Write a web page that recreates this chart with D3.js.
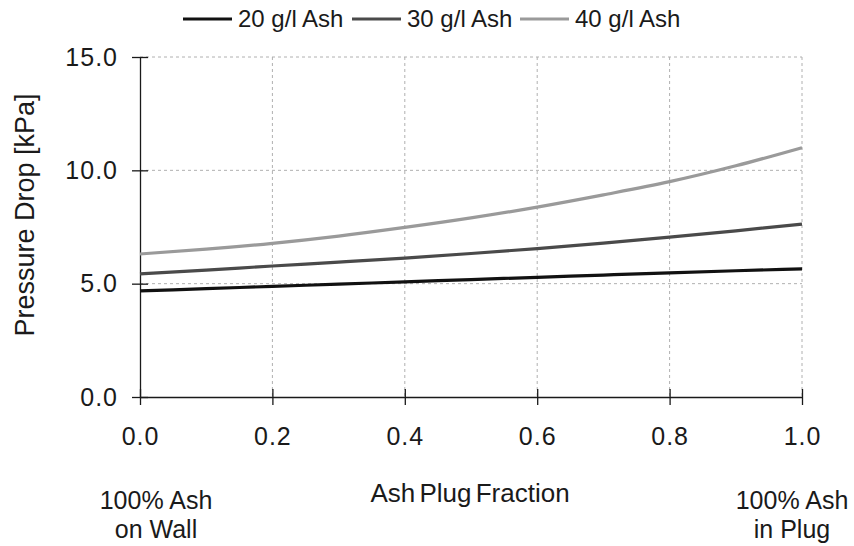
<!DOCTYPE html>
<html>
<head>
<meta charset="utf-8">
<script src="https://cdn.jsdelivr.net/npm/d3@7"></script>
<style>
  body { margin: 0; background: #fff; }
  text { font-family: "Liberation Sans", Arial, sans-serif; fill: #1a1a1a; }
</style>
</head>
<body>
<div id="chart-area"></div>
<script>
// data
var fraction = [0.0, 0.1, 0.2, 0.3, 0.4, 0.5, 0.6, 0.7, 0.8, 0.9, 1.0]
var ash20 = [4.68, 4.78, 4.88, 4.98, 5.08, 5.18, 5.28, 5.38, 5.48, 5.57, 5.65]
var ash30 = [5.43, 5.6, 5.78, 5.95, 6.13, 6.33, 6.55, 6.79, 7.05, 7.33, 7.63]
var ash40 = [6.31, 6.52, 6.78, 7.1, 7.48, 7.9, 8.38, 8.92, 9.5, 10.2, 11.0]
var seriesNames = ["20 g/l Ash", "30 g/l Ash", "40 g/l Ash"]
var seriesColors = ["#111111", "#4a4a4a", "#9a9a9a"]
var xTicks = [0, 0.2, 0.4, 0.6, 0.8, 1.0]
var yTicks = [0, 5, 10, 15]

// margin
var margin = { left: 140, right: 52, top: 57, bottom: 149 }

// dimensions
var width = 854 - margin.left - margin.right,
    height = 546 - margin.top - margin.bottom

var svg = d3.select("#chart-area")
    .append("svg")
        .attr("width", 854)
        .attr("height", 546)

var g = svg.append("g")
    .attr("transform", "translate(" + margin.left + ", " + margin.top + ")")

// scales
var x = d3.scaleLinear().domain([0, 1]).range([0, width])
var y = d3.scaleLinear().domain([0, 15]).range([height, 0])

// grid
g.selectAll(".vgrid")
    .data(xTicks.slice(1))
    .enter().append("line")
        .attr("x1", function(d){ return x(d) })
        .attr("x2", function(d){ return x(d) })
        .attr("y1", 0)
        .attr("y2", height)
        .attr("stroke", "#b0b0b0")
        .attr("stroke-width", 1)
        .attr("stroke-dasharray", "3,3")
g.selectAll(".hgrid")
    .data(yTicks.slice(1))
    .enter().append("line")
        .attr("x1", 0)
        .attr("x2", width)
        .attr("y1", function(d){ return y(d) })
        .attr("y2", function(d){ return y(d) })
        .attr("stroke", "#b0b0b0")
        .attr("stroke-width", 1)
        .attr("stroke-dasharray", "3,3")

// X Axis
var xAxisCall = d3.axisBottom(x)
    .tickValues(xTicks)
    .tickSizeInner(8)
    .tickSizeOuter(0)
    .tickPadding(22)
    .tickFormat(d3.format(".1f"))
var xAxis = g.append("g")
    .attr("class", "x axis")
    .attr("transform", "translate(0," + height + ")")
    .call(xAxisCall)
xAxis.selectAll(".tick line").attr("y1", -8)
xAxis.selectAll("text")
    .attr("font-size", "25px")
    .attr("letter-spacing", "1px")
    .attr("fill", "#1a1a1a")

// Y Axis
var yAxisCall = d3.axisLeft(y)
    .tickValues(yTicks)
    .tickSizeInner(8)
    .tickSizeOuter(0)
    .tickPadding(14)
    .tickFormat(d3.format(".1f"))
var yAxis = g.append("g")
    .attr("class", "y axis")
    .call(yAxisCall)
yAxis.selectAll(".tick line").attr("x1", 8)
yAxis.selectAll("text")
    .attr("font-size", "25px")
    .attr("letter-spacing", "1px")
    .attr("fill", "#1a1a1a")

svg.selectAll(".domain, .tick line").attr("stroke", "#1a1a1a").attr("stroke-width", 1.3)
svg.selectAll("text").attr("font-family", "Liberation Sans, Arial, sans-serif")

// lines
var allSeries = [ash20, ash30, ash40]
var line = d3.line()
    .x(function(d, i){ return x(fraction[i]) })
    .y(function(d){ return y(d) })
    .curve(d3.curveMonotoneX)

g.selectAll(".series")
    .data(allSeries)
    .enter().append("path")
        .attr("d", line)
        .attr("fill", "none")
        .attr("stroke", function(d, i){ return seriesColors[i] })
        .attr("stroke-width", 3.2)

// legend
var legendX = [183, 352, 520]
var legend = svg.selectAll(".legend")
    .data(seriesNames)
    .enter().append("g")
        .attr("transform", function(d, i){ return "translate(" + legendX[i] + ",19)" })
legend.append("line")
    .attr("x1", 0)
    .attr("x2", 49)
    .attr("stroke", function(d, i){ return seriesColors[i] })
    .attr("stroke-width", 3.2)
legend.append("text")
    .attr("x", 55)
    .attr("y", 8)
    .attr("font-size", "24px")
    .text(function(d){ return d })

// Y Label
svg.append("text")
    .attr("transform", "translate(34,215) rotate(-90)")
    .attr("font-size", "27px")
    .attr("text-anchor", "middle")
    .text("Pressure Drop [kPa]")

// X Label
svg.append("text")
    .attr("x", 470)
    .attr("y", 502)
    .attr("font-size", "26px")
    .attr("text-anchor", "middle")
    .attr("word-spacing", "-3px")
    .text("Ash Plug Fraction")

// end notes
var notes = [
    { x: 156, lines: ["100% Ash", "on Wall"] },
    { x: 792, lines: ["100% Ash", "in Plug"] }
]
notes.forEach(function(n) {
    n.lines.forEach(function(t, i) {
        svg.append("text")
            .attr("x", n.x)
            .attr("y", 509 + i * 29)
            .attr("font-size", "25px")
            .attr("text-anchor", "middle")
            .text(t)
    })
})
</script>
</body>
</html>
